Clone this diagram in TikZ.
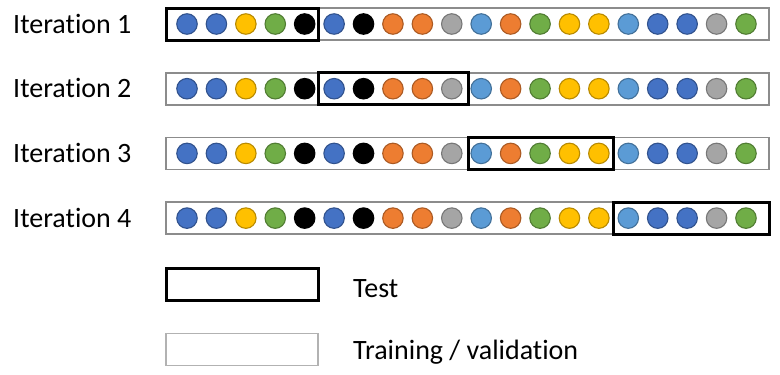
\documentclass[tikz,border=0pt]{standalone}
\usepackage{fontspec}
\setmainfont{Carlito}[Ligatures={NoCommon,NoContextual}]
\usetikzlibrary{positioning}
\definecolor{dblue}{HTML}{4472C4}
\definecolor{lblue}{HTML}{5B9BD5}
\definecolor{dyellow}{HTML}{FFC000}
\definecolor{dgreen}{HTML}{70AD47}
\definecolor{dorange}{HTML}{ED7D31}
\definecolor{dgray}{HTML}{A5A5A5}
\definecolor{dblack}{HTML}{000000}
\definecolor{barline}{HTML}{8C8C8C}

\begin{document}
\begin{tikzpicture}[x=1pt,y=-1pt,
    dot/.style = {draw, circle, minimum size=20.5pt, inner sep=0pt, line width=1.1pt},
    bar/.style = {draw=barline, line width=1.6pt, minimum height=32pt, inner sep=0pt},
    testbox/.style = {draw=black, line width=3pt, minimum height=32pt, inner sep=0pt},
    label/.style = {font=\fontsize{28}{32}\selectfont, inner sep=0pt, anchor=base west}]
\useasboundingbox (0,0) rectangle (780,375);
% the four folds
\foreach \r/\a/\b in {1/166/318.5, 2/318.5/468, 3/468/613.5, 4/613.5/769} {
    \node[label] (it\r) at (13, {33+(\r-1)*64.7}) {Iteration \r};
    \node[bar, minimum width=603pt] (bar\r) at (467.5, {24+(\r-1)*64.7}) {};
    \foreach \c [count=\i] in {dblue,dblue,dyellow,dgreen,dblack,dblue,dblack,dorange,dorange,dgray,
                               lblue,dorange,dgreen,dyellow,dyellow,lblue,dblue,dblue,dgray,dgreen} {
        \node[dot, fill=\c, draw=\c!72!black] (d\r-\i) at ({187+(\i-1)*29.42}, {24+(\r-1)*64.7}) {};
    }
    \node[testbox, minimum width={(\b-\a)*1pt}] (test\r) at ({(\a+\b)/2}, {24+(\r-1)*64.7}) {};
}
% legend
\node[testbox, minimum width=152pt] (keytest) at (242, 284) {};
\node[bar, draw=gray!60, minimum width=152pt] (keytrain) at (242, 349.5) {};
\node[label] (txttest) at (353, 297) {Test};
\node[label] (txttrain) at (353, 359) {Training / validation};
\end{tikzpicture}
\end{document}
